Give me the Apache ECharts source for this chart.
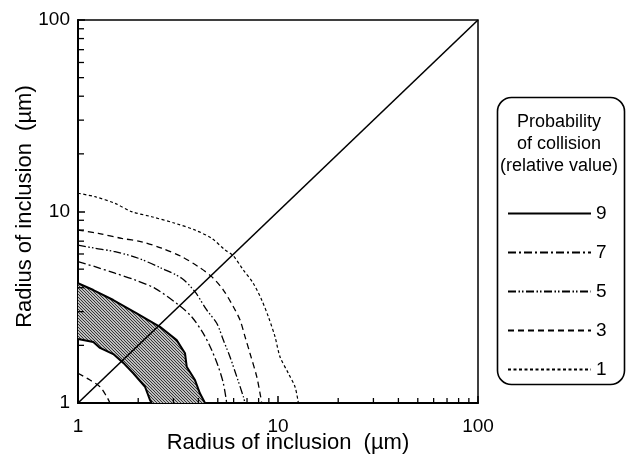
<!DOCTYPE html>
<html><head><meta charset="utf-8">
<script src="https://cdn.jsdelivr.net/npm/echarts@6/dist/echarts.min.js"></script>
<style>html,body{margin:0;padding:0;background:#fff}#c{width:626px;height:458px}</style>
</head><body><div id="c"></div>
<script>
// ---- data (radius of inclusion, µm) ----
const tickLabels = [1, 10, 100];
const minorTicks = [2, 3, 4, 5, 6, 7, 8, 9, 20, 30, 40, 50, 60, 70, 80, 90];
const contour1 = [[1,12.45],[1.216,11.95],[1.531,11.03],[1.856,9.98],[2.336,9.39],[3.055,8.68],[3.846,8.0],[4.661,7.24],[5.433,6.30],[5.95,5.9],[6.71,4.95],[7.52,4.22],[8.29,3.45],[8.95,2.82],[9.66,2.22],[10.23,1.745],[11.26,1.43],[12.16,1.216],[12.64,1]];
const contour3 = [[1,8.0],[1.263,7.69],[1.654,7.24],[2.082,6.95],[2.621,6.43],[3.301,5.81],[3.995,5.15],[4.66,4.57],[5.33,3.89],[5.98,3.18],[6.46,2.71],[6.84,2.22],[7.24,1.82],[7.83,1.372],[8.13,1.124],[8.29,1]];
const contour3Inner = [[1,1.43],[1.148,1.318],[1.288,1.216],[1.392,1.079],[1.445,1]];
const contour5 = [[1,6.68],[1.216,6.43],[1.531,6.17],[2.003,5.70],[2.621,5.05],[3.301,4.48],[3.85,3.8],[4.40,3.06],[4.94,2.61],[5.33,2.13],[5.75,1.745],[6.22,1.372],[6.71,1.079],[6.84,1]];
const contour7 = [[1,5.47],[1.216,5.15],[1.531,4.76],[1.928,4.39],[2.427,3.97],[3.236,3.21],[3.70,2.82],[4.23,2.31],[4.66,1.89],[5.03,1.547],[5.33,1.267],[5.54,1]];
const band9Outer = [[1,4.22],[1.193,3.89],[1.501,3.45],[1.966,2.94],[2.57,2.50],[3.115,2.13],[3.428,1.82],[3.496,1.547],[3.846,1.318],[4.07,1.124],[4.315,1]];
const band9Inner = [[1,2.16],[1.193,2.08],[1.288,1.94],[1.501,1.80],[1.685,1.62],[1.89,1.43],[2.163,1.216],[2.29,1.037],[2.336,1]];
const diagonal = [[1,1],[100,100]];
const legendLevels = ['9','7','5','3','1'];

const FONT = "'Liberation Sans', Arial, Helvetica, sans-serif";

// hatch pattern for the shaded band
const pat = document.createElement('canvas');
pat.width = 3; pat.height = 3;
const g = pat.getContext('2d');
g.fillStyle = '#ffffff'; g.fillRect(0,0,3,3);
g.strokeStyle = '#303030'; g.lineWidth = 1.2;
g.beginPath();
g.moveTo(0,0); g.lineTo(3,3);
g.moveTo(-1,2); g.lineTo(1,4);
g.moveTo(2,-1); g.lineTo(4,1);
g.stroke();

const chart = echarts.init(document.getElementById('c'), null, {renderer:'canvas'});

function lineSeries(name, data, dash, width, smooth) {
  return {
    name: name, type: 'line', data: data, symbol: 'none', showSymbol: false, smooth: smooth,
    lineStyle: {color: '#000', width: width, type: dash},
    itemStyle: {color: '#000'},
    silent: true, z: 3
  };
}

const axisCommon = {
  type: 'log', logBase: 10, min: 1, max: 100,
  axisLine: {show: true, lineStyle: {color: '#000', width: 2}},
  axisTick: {show: true, inside: true, length: 7, lineStyle: {color: '#000', width: 1.5}},
  splitLine: {show: false},
  minorTick: {show: false},
  nameLocation: 'middle',
  nameMoveOverlap: false
};

chart.setOption({
  animation: false,
  backgroundColor: '#fff',
  grid: {left: 78, right: 148, top: 20, bottom: 55, outerBoundsMode: 'none', containLabel: false,
    show: true, borderColor: '#000', borderWidth: 1.5, backgroundColor: 'transparent'},
  xAxis: Object.assign({}, axisCommon, {
    name: 'Radius of inclusion  (µm)', nameGap: 29,
    nameTextStyle: {color: '#000', fontSize: 22, fontFamily: FONT, padding: [0, 0, 0, 20]},
    axisLabel: {color: '#000', fontSize: 19, fontFamily: FONT, margin: 14,
      formatter: v => tickLabels.includes(Math.round(v)) ? String(Math.round(v)) : ''}
  }),
  yAxis: Object.assign({}, axisCommon, {
    name: 'Radius of inclusion  (µm)', nameGap: 42, nameRotate: 90,
    nameTextStyle: {color: '#000', fontSize: 22, fontFamily: FONT, padding: [0, 0, 0, 10]},
    axisLabel: {color: '#000', fontSize: 19, fontFamily: FONT, margin: 8,
      formatter: v => tickLabels.includes(Math.round(v)) ? String(Math.round(v)) : ''}
  }),
  legend: {
    orient: 'vertical', left: 502, top: 199, itemWidth: 83, itemHeight: 14, itemGap: 20,
    data: legendLevels, selectedMode: false,
    itemStyle: {color: 'transparent', borderColor: 'transparent', borderWidth: 0, opacity: 0},
    textStyle: {color: '#000', fontSize: 19, fontFamily: FONT}
  },
  graphic: [
    {type: 'rect', left: 495, top: 95, shape: {width: 127, height: 287, r: 14},
     style: {fill: 'none', stroke: '#000', lineWidth: 1.6}, z: 10, silent: true},
    {type: 'text', x: 559, y: 122, style: {text: 'Probability', font: '18px ' + FONT, fill: '#000', align: 'center', verticalAlign: 'middle'}, z: 10},
    {type: 'text', x: 559, y: 144, style: {text: 'of collision', font: '18px ' + FONT, fill: '#000', align: 'center', verticalAlign: 'middle'}, z: 10},
    {type: 'text', x: 559, y: 166, style: {text: '(relative value)', font: '18px ' + FONT, fill: '#000', align: 'center', verticalAlign: 'middle'}, z: 10}
  ],
  series: [
    {
      type: 'custom', silent: true, z: 1,
      data: [[1, 1]],
      renderItem: function (params, api) {
        const pts = band9Outer.concat(band9Inner.slice().reverse()).map(d => api.coord(d));
        return {type: 'polygon', shape: {points: pts},
          style: {fill: {image: pat, repeat: 'repeat'}, stroke: 'none'}};
      }
    },
    {
      type: 'custom', silent: true, z: 4,
      data: minorTicks.map(v => [v, 1]),
      renderItem: function (params, api) {
        const p = api.coord([api.value(0), api.value(1)]);
        return {type: 'line', shape: {x1: p[0], y1: p[1], x2: p[0], y2: p[1] - 5},
          style: {stroke: '#000', lineWidth: 1.3}};
      }
    },
    {
      type: 'custom', silent: true, z: 4,
      data: minorTicks.map(v => [1, v]),
      renderItem: function (params, api) {
        const p = api.coord([api.value(0), api.value(1)]);
        return {type: 'line', shape: {x1: p[0], y1: p[1], x2: p[0] + 6, y2: p[1]},
          style: {stroke: '#000', lineWidth: 1.3}};
      }
    },
    lineSeries('9', band9Outer, 'solid', 2, false),
    lineSeries('9', band9Inner, 'solid', 2, false),
    lineSeries('7', contour7, [8, 3, 2, 3], 1.3, 0.3),
    lineSeries('5', contour5, [8, 2.5, 1.5, 2, 1.5, 2.5], 1.3, 0.3),
    lineSeries('3', contour3, [6, 4], 1.3, 0.3),
    lineSeries('3', contour3Inner, [6, 4], 1.3, 0.3),
    lineSeries('1', contour1, [3, 2.5], 1.2, 0.3),
    {type: 'line', data: diagonal, symbol: 'none', silent: true, z: 3,
     lineStyle: {color: '#000', width: 1.6, type: 'solid'}}
  ]
});
</script>
</body></html>
